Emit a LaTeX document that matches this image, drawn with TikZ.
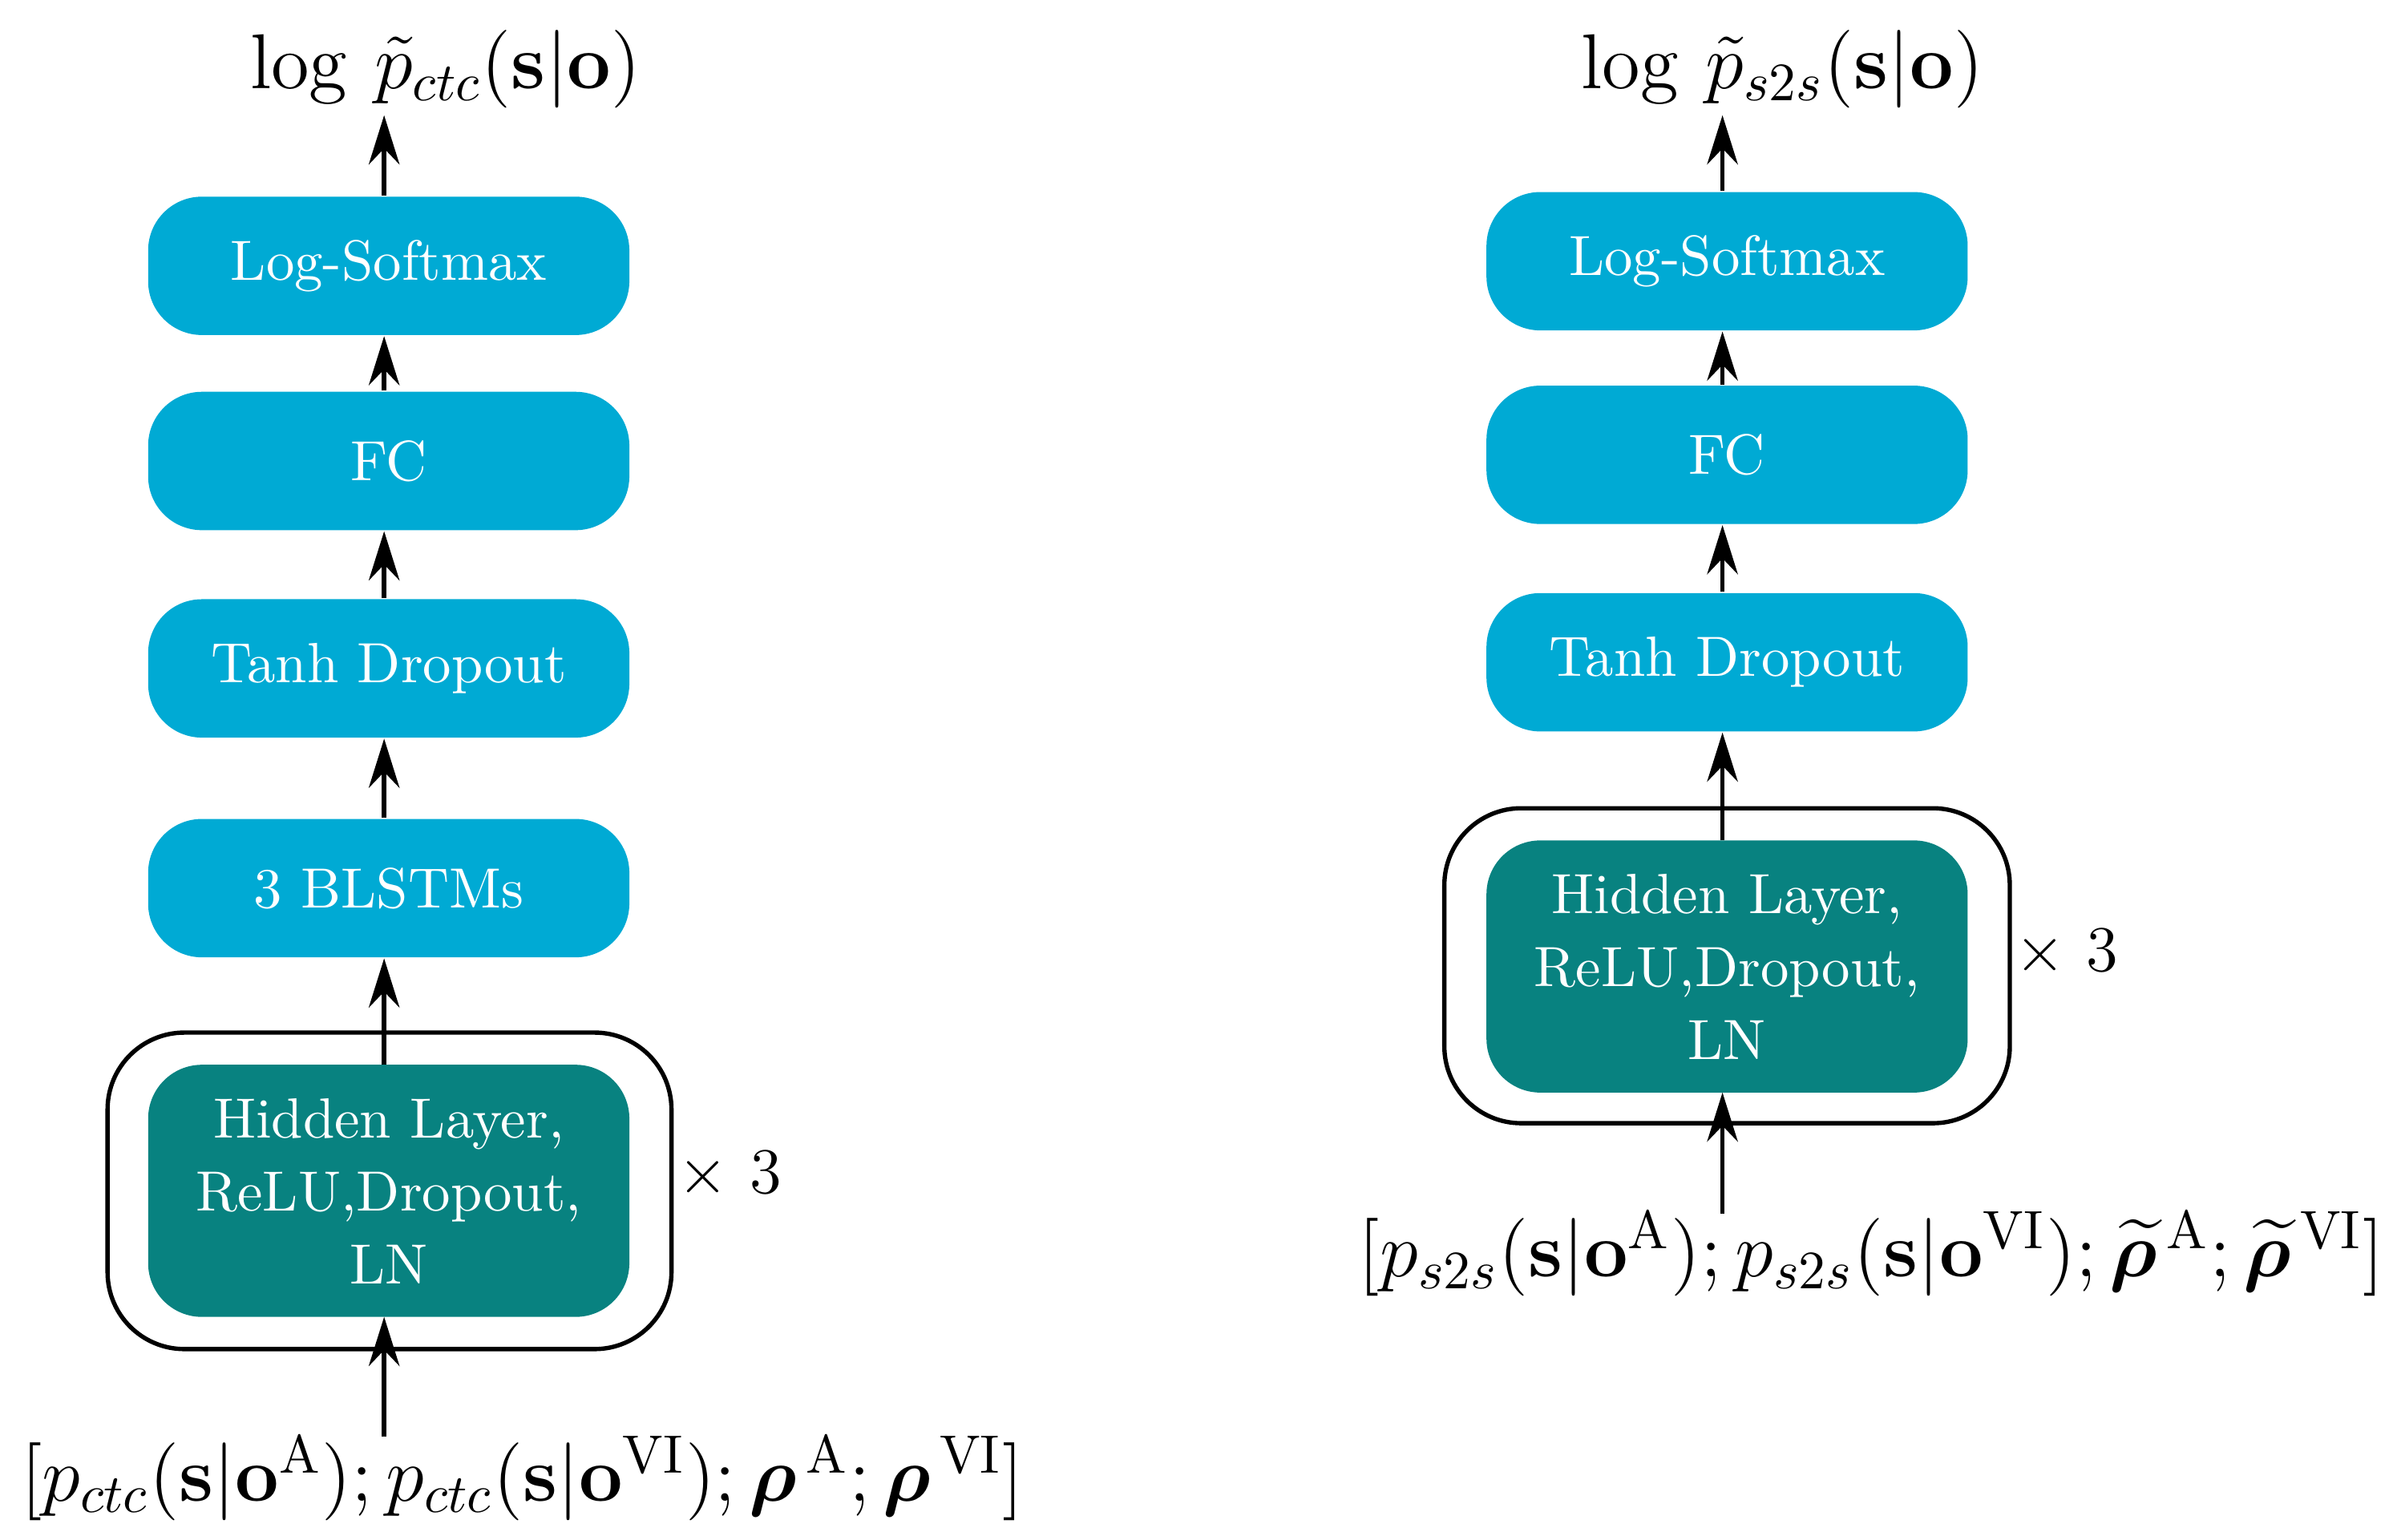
\documentclass[tikz,border=0pt]{standalone}
\usepackage{amsmath,bm}
\usetikzlibrary{arrows.meta}
\definecolor{myblue}{RGB}{0, 170, 212}
\definecolor{myteal}{RGB}{8, 130, 128}
\begin{document}
\begin{tikzpicture}[x=0.01cm,y=-0.01cm]
                \useasboundingbox (0,0) rectangle (1560,1002);
                \tikzstyle{box}=[rectangle, rounded corners=0.35cm, fill=myblue, minimum width=3.13cm, minimum height=0.9cm, text centered, text=white, font=\fontsize{10.5}{13.5}\selectfont]
                \tikzstyle{hid}=[box, fill=myteal, minimum height=1.64cm, align=center]
                \tikzstyle{wrap}=[draw, thick, rounded corners=0.5cm]
                \tikzstyle{bind}=[-{Stealth[length=0.32cm,width=0.2cm]},thick]

                % CTC branch
                \node[box] (L4) at (253,173) {Log-Softmax};
                \node[box] (L3) at (253,300) {FC};
                \node[box] (L2) at (253,435) {Tanh Dropout};
                \node[box] (L1) at (253,578) {3 BLSTMs};
                \node[hid] (LH) at (253,775) {Hidden Layer,\\ReLU,Dropout,\\LN};
                \draw[wrap] (70,672) rectangle (437,878);
                \node (LX) at (475,765) {\large $\times\ 3$};
                \node (LO) at (290,45) {\Large $\log\,\tilde{p}_{ctc}(\mathbf{s}|\mathbf{o})$};
                \node (LI) at (340,962) {\Large $[p_{ctc}(\mathbf{s}|\mathbf{o}^{\mathrm{A}});p_{ctc}(\mathbf{s}|\mathbf{o}^{\mathrm{VI}});\bm{\rho}^{\,\mathrm{A}};\bm{\rho}^{\,\mathrm{VI}}]$};
                \coordinate (LIa) at (250,935);
                \coordinate (LOa) at (250,75);

                \draw[bind] (LIa) -- (250,857);
                \draw[bind] (250,693) -- (L1.south -| 250,0);
                \draw[bind] (L1.north -| 250,0) -- (L2.south -| 250,0);
                \draw[bind] (L2.north -| 250,0) -- (L3.south -| 250,0);
                \draw[bind] (L3.north -| 250,0) -- (L4.south -| 250,0);
                \draw[bind] (L4.north -| 250,0) -- (LOa);

                % S2S branch
                \node[box] (R4) at (1124,170) {Log-Softmax};
                \node[box] (R3) at (1124,296) {FC};
                \node[box] (R2) at (1124,431) {Tanh Dropout};
                \node[hid] (RH) at (1124,629) {Hidden Layer,\\ReLU,Dropout,\\LN};
                \draw[wrap] (940,526) rectangle (1308,731);
                \node (RX) at (1345,620) {\large $\times\ 3$};
                \node (RO) at (1160,45) {\Large $\log\,\tilde{p}_{s2s}(\mathbf{s}|\mathbf{o})$};
                \node (RI) at (1218,816) {\Large $[p_{s2s}(\mathbf{s}|\mathbf{o}^{\mathrm{A}});p_{s2s}(\mathbf{s}|\mathbf{o}^{\mathrm{VI}});\widetilde{\bm{\rho}}^{\,\mathrm{A}};\widetilde{\bm{\rho}}^{\,\mathrm{VI}}]$};
                \coordinate (RIa) at (1121,790);
                \coordinate (ROa) at (1121,75);

                \draw[bind] (RIa) -- (1121,711);
                \draw[bind] (1121,547) -- (R2.south -| 1121,0);
                \draw[bind] (R2.north -| 1121,0) -- (R3.south -| 1121,0);
                \draw[bind] (R3.north -| 1121,0) -- (R4.south -| 1121,0);
                \draw[bind] (R4.north -| 1121,0) -- (ROa);
            \end{tikzpicture}
\end{document}
